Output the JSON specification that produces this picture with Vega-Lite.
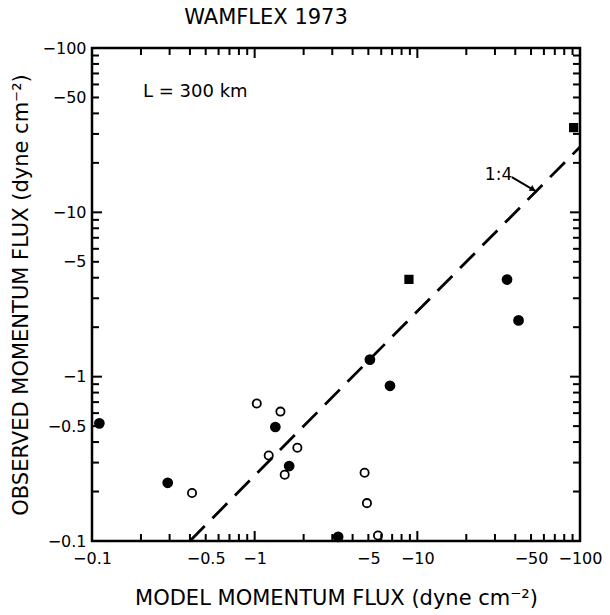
{
  "$schema": "https://vega.github.io/schema/vega-lite/v6.json",
  "width": 488,
  "height": 493,
  "autosize": {"type": "none"},
  "padding": {"left": 92, "top": 48, "right": 30, "bottom": 74},
  "background": "white",
  "config": {"view": {"stroke": "black", "strokeWidth": 2.5}, "font": "DejaVu Sans"},
  "title": {"text": "WAMFLEX 1973", "fontSize": 21, "fontWeight": "normal", "offset": 12, "dx": -70, "anchor": "middle", "frame": "group", "color": "black"},
  "datasets": {
    "points": [
      {"model": -0.111, "observed": -0.52, "symbol": "filled circle"},
      {"model": -0.292, "observed": -0.226, "symbol": "filled circle"},
      {"model": -1.34, "observed": -0.494, "symbol": "filled circle"},
      {"model": -1.63, "observed": -0.286, "symbol": "filled circle"},
      {"model": -3.26, "observed": -0.106, "symbol": "filled circle"},
      {"model": -5.11, "observed": -1.27, "symbol": "filled circle"},
      {"model": -6.79, "observed": -0.88, "symbol": "filled circle"},
      {"model": -41.9, "observed": -2.2, "symbol": "filled circle"},
      {"model": -35.6, "observed": -3.9, "symbol": "filled circle"},
      {"model": -0.412, "observed": -0.196, "symbol": "open circle"},
      {"model": -1.03, "observed": -0.686, "symbol": "open circle"},
      {"model": -1.44, "observed": -0.613, "symbol": "open circle"},
      {"model": -1.22, "observed": -0.331, "symbol": "open circle"},
      {"model": -1.83, "observed": -0.369, "symbol": "open circle"},
      {"model": -1.53, "observed": -0.253, "symbol": "open circle"},
      {"model": -4.74, "observed": -0.26, "symbol": "open circle"},
      {"model": -4.9, "observed": -0.17, "symbol": "open circle"},
      {"model": -5.73, "observed": -0.108, "symbol": "open circle"},
      {"model": -91.4, "observed": -32.8, "symbol": "filled square"},
      {"model": -8.88, "observed": -3.91, "symbol": "filled square"}
    ],
    "line": [
      {"model": -0.4, "observed": -0.1},
      {"model": -100, "observed": -25}
    ],
    "labels": [
      {"model": -0.206, "observed": -54, "text": "L = 300 km", "size": 18},
      {"model": -26.0, "observed": -16.9, "text": "1:4", "size": 17}
    ],
    "arrow": [
      {"model": -38.1, "observed": -16.4, "model2": -54.3, "observed2": -13.3}
    ],
    "arrowhead": [
      {"model": -51.4, "observed": -13.8}
    ],
    "ticks": [
      {"value": -0.2, "kind": "minor"}, {"value": -0.3, "kind": "minor"}, {"value": -0.4, "kind": "minor"},
      {"value": -0.5, "kind": "minor"}, {"value": -0.6, "kind": "minor"}, {"value": -0.7, "kind": "minor"},
      {"value": -0.8, "kind": "minor"}, {"value": -0.9, "kind": "minor"}, {"value": -1, "kind": "major"},
      {"value": -2, "kind": "minor"}, {"value": -3, "kind": "minor"}, {"value": -4, "kind": "minor"},
      {"value": -5, "kind": "minor"}, {"value": -6, "kind": "minor"}, {"value": -7, "kind": "minor"},
      {"value": -8, "kind": "minor"}, {"value": -9, "kind": "minor"}, {"value": -10, "kind": "major"},
      {"value": -20, "kind": "minor"}, {"value": -30, "kind": "minor"}, {"value": -40, "kind": "minor"},
      {"value": -50, "kind": "minor"}, {"value": -60, "kind": "minor"}, {"value": -70, "kind": "minor"},
      {"value": -80, "kind": "minor"}, {"value": -90, "kind": "minor"}
    ]
  },
  "layer": [
    {
      "data": {"name": "points"},
      "mark": {"type": "point", "filled": true, "stroke": "black", "strokeWidth": 1.8, "opacity": 1},
      "encoding": {
        "x": {"field": "model", "type": "quantitative", "scale": {"type": "log", "domain": [-0.1, -100]},
          "axis": {"orient": "bottom", "domain": false, "ticks": false, "tickSize": 0, "values": [-0.1, -0.5, -1, -5, -10, -50, -100],
            "format": "~g", "labelOverlap": false, "labelFlush": false, "labelFontSize": 16, "labelColor": "black", "labelPadding": 9,
            "title": "MODEL MOMENTUM FLUX (dyne cm⁻²)", "titleFontSize": 21, "titleFontWeight": "normal", "titleColor": "black", "titlePadding": 21,
            "grid": false}},
        "y": {"field": "observed", "type": "quantitative", "scale": {"type": "log", "domain": [-0.1, -100]},
          "axis": {"orient": "left", "domain": false, "ticks": false, "tickSize": 0, "values": [-0.1, -0.5, -1, -5, -10, -50, -100],
            "format": "~g", "labelOverlap": false, "labelFlush": false, "labelFontSize": 16, "labelColor": "black", "labelPadding": 6,
            "title": "OBSERVED MOMENTUM FLUX (dyne cm⁻²)", "titleFontSize": 21, "titleFontWeight": "normal", "titleColor": "black", "titlePadding": 11,
            "grid": false}},
        "shape": {"field": "symbol", "type": "nominal", "scale": {"domain": ["filled circle", "open circle", "filled square"], "range": ["circle", "circle", "square"]}, "legend": null},
        "fill": {"field": "symbol", "type": "nominal", "scale": {"domain": ["filled circle", "open circle", "filled square"], "range": ["black", "white", "black"]}, "legend": null},
        "size": {"field": "symbol", "type": "nominal", "scale": {"domain": ["filled circle", "open circle", "filled square"], "range": [80, 55, 75]}, "legend": null}
      }
    },
    {
      "data": {"name": "line"},
      "mark": {"type": "line", "color": "black", "strokeWidth": 2.8, "strokeDash": [21, 11]},
      "encoding": {
        "x": {"field": "model", "type": "quantitative"},
        "y": {"field": "observed", "type": "quantitative"}
      }
    },
    {
      "data": {"name": "ticks"},
      "mark": {"type": "point", "shape": "M0,0L0,-1", "filled": false, "stroke": "black", "strokeWidth": 2, "opacity": 1},
      "encoding": {
        "x": {"field": "value", "type": "quantitative"},
        "y": {"datum": -0.1, "type": "quantitative"},
        "size": {"field": "kind", "type": "nominal", "scale": {"domain": ["major", "minor"], "range": [400, 196]}, "legend": null}
      }
    },
    {
      "data": {"name": "ticks"},
      "mark": {"type": "point", "shape": "M0,0L0,1", "filled": false, "stroke": "black", "strokeWidth": 2, "opacity": 1},
      "encoding": {
        "x": {"field": "value", "type": "quantitative"},
        "y": {"datum": -100, "type": "quantitative"},
        "size": {"field": "kind", "type": "nominal", "scale": {"domain": ["major", "minor"], "range": [400, 196]}, "legend": null}
      }
    },
    {
      "data": {"name": "ticks"},
      "mark": {"type": "point", "shape": "M0,0L1,0", "filled": false, "stroke": "black", "strokeWidth": 2, "opacity": 1},
      "encoding": {
        "y": {"field": "value", "type": "quantitative"},
        "x": {"datum": -0.1, "type": "quantitative"},
        "size": {"field": "kind", "type": "nominal", "scale": {"domain": ["major", "minor"], "range": [400, 196]}, "legend": null}
      }
    },
    {
      "data": {"name": "ticks"},
      "mark": {"type": "point", "shape": "M0,0L-1,0", "filled": false, "stroke": "black", "strokeWidth": 2, "opacity": 1},
      "encoding": {
        "y": {"field": "value", "type": "quantitative"},
        "x": {"datum": -100, "type": "quantitative"},
        "size": {"field": "kind", "type": "nominal", "scale": {"domain": ["major", "minor"], "range": [400, 196]}, "legend": null}
      }
    },
    {
      "data": {"name": "labels"},
      "mark": {"type": "text", "align": "left", "baseline": "middle", "color": "black", "font": "DejaVu Sans"},
      "encoding": {
        "x": {"field": "model", "type": "quantitative"},
        "y": {"field": "observed", "type": "quantitative"},
        "text": {"field": "text"},
        "size": {"field": "size", "type": "quantitative", "scale": null}
      }
    },
    {
      "data": {"name": "arrow"},
      "mark": {"type": "rule", "color": "black", "strokeWidth": 2},
      "encoding": {
        "x": {"field": "model", "type": "quantitative"},
        "y": {"field": "observed", "type": "quantitative"},
        "x2": {"field": "model2"},
        "y2": {"field": "observed2"}
      }
    },
    {
      "data": {"name": "arrowhead"},
      "mark": {"type": "point", "shape": "triangle-right", "filled": true, "color": "black", "size": 45, "angle": 32, "opacity": 1},
      "encoding": {
        "x": {"field": "model", "type": "quantitative"},
        "y": {"field": "observed", "type": "quantitative"}
      }
    }
  ],
  "resolve": {"scale": {"size": "independent"}}
}
